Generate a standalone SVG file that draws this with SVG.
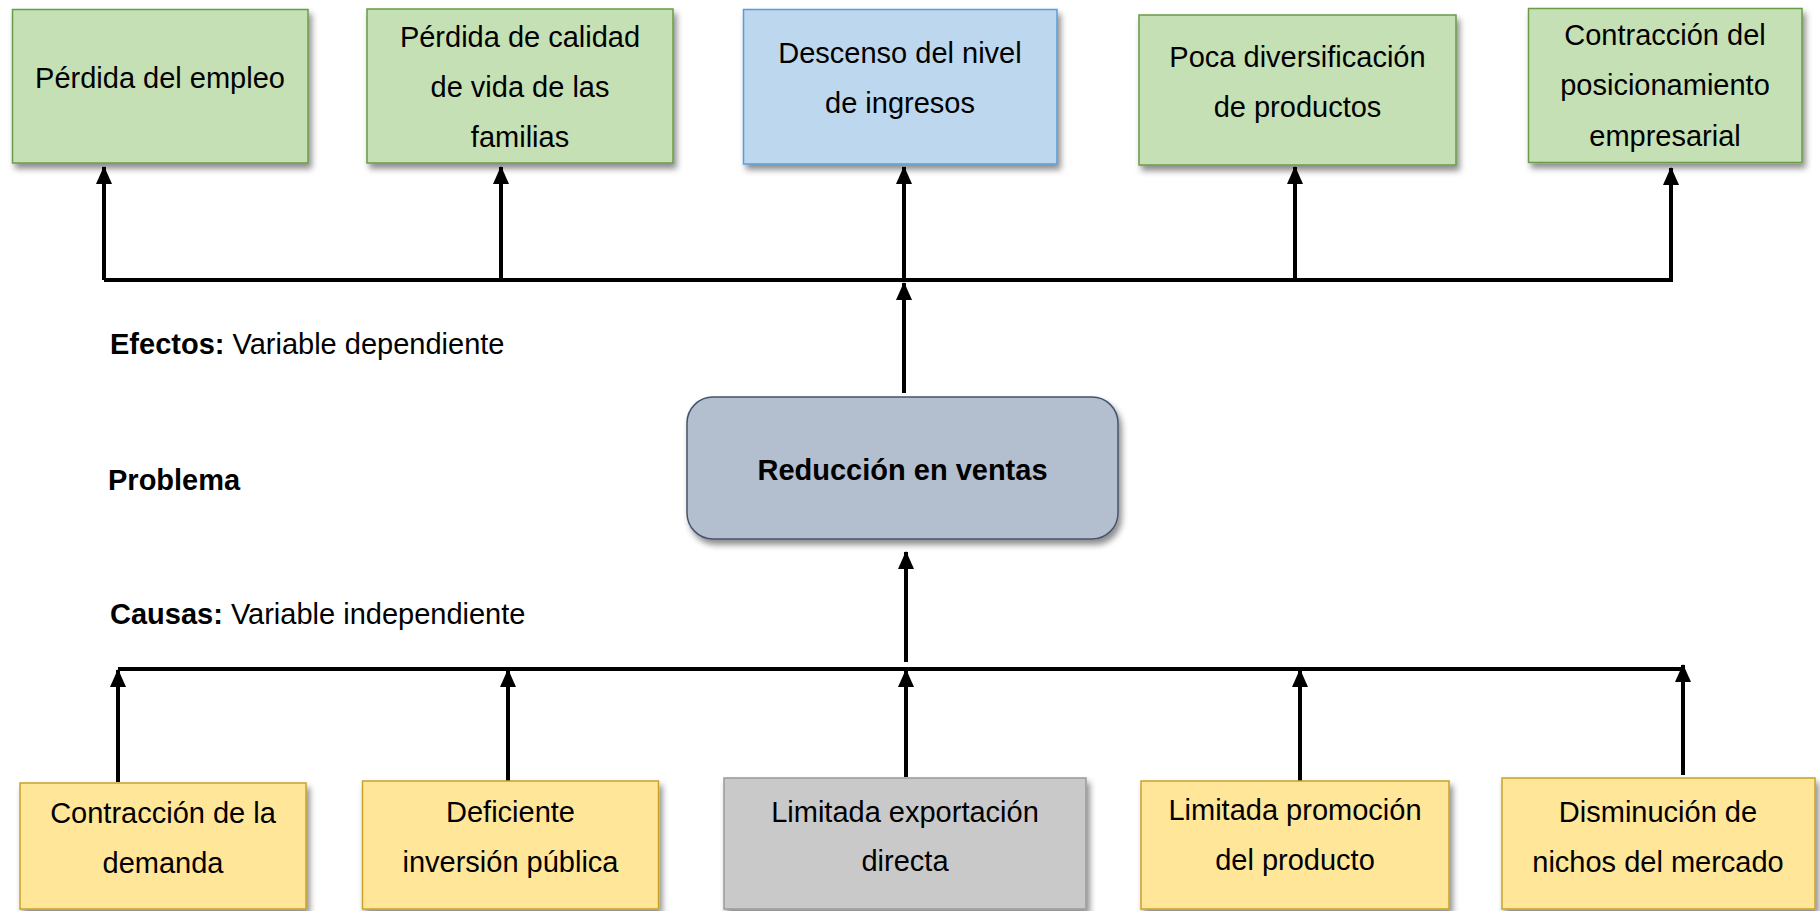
<svg xmlns="http://www.w3.org/2000/svg" width="1820" height="911" viewBox="0 0 1820 911">
<defs>
<style>
text{font-family:"Liberation Sans",Arial,sans-serif;font-size:29px;fill:#000}
.c{text-anchor:middle}
.b{font-weight:bold}
.green{fill:#C5E0B4;stroke:#6A9B47;stroke-width:1.5}
.blue{fill:#BDD7EE;stroke:#5B9BD5;stroke-width:1.5}
.yellow{fill:#FFE699;stroke:#C9A227;stroke-width:1.5}
.gray{fill:#C9C9C9;stroke:#999999;stroke-width:1.5}
.core{fill:#B3BECE;stroke:#44546A;stroke-width:1.5}
.ln{stroke:#000;stroke-width:4;fill:none}
.ar{stroke:#000;stroke-width:4;fill:none;marker-end:url(#ah)}
</style>
<marker id="ah" markerUnits="userSpaceOnUse" markerWidth="18" markerHeight="18" viewBox="0 0 18 18" refX="17" refY="9" orient="auto">
<path d="M0,1 L18,9 L0,17 Z" fill="#000"/>
</marker>
<filter id="sh" x="-10%" y="-10%" width="125%" height="130%">
<feDropShadow dx="3" dy="5" stdDeviation="3" flood-color="#000" flood-opacity="0.45"/>
</filter>
</defs>

<g id="connectors">
<line class="ln" x1="104" y1="280" x2="1671" y2="280"/>
<line class="ar" x1="104" y1="280" x2="104" y2="167"/>
<line class="ar" x1="501" y1="280" x2="501" y2="167"/>
<line class="ar" x1="904" y1="280" x2="904" y2="167"/>
<line class="ar" x1="1295" y1="280" x2="1295" y2="167"/>
<line class="ar" x1="1671" y1="282" x2="1671" y2="168"/>
<line class="ar" x1="904" y1="393" x2="904" y2="283"/>
<line class="ln" x1="118" y1="669" x2="1683" y2="669"/>
<line class="ar" x1="118" y1="782" x2="118" y2="670"/>
<line class="ar" x1="508" y1="781" x2="508" y2="670"/>
<line class="ar" x1="906" y1="777" x2="906" y2="670"/>
<line class="ar" x1="1300" y1="781" x2="1300" y2="670"/>
<line class="ar" x1="1683" y1="775" x2="1683" y2="665"/>
<line class="ar" x1="906" y1="662" x2="906" y2="552"/>
</g>

<g id="effect1">
<rect class="green" filter="url(#sh)" x="12.5" y="9.5" width="295.5" height="153.5"/>
<text class="c" x="160" y="88">Pérdida del empleo</text>
</g>
<g id="effect2">
<rect class="green" filter="url(#sh)" x="367" y="9" width="306" height="154"/>
<text class="c" x="520" y="47">Pérdida de calidad</text>
<text class="c" x="520" y="97">de vida de las</text>
<text class="c" x="520" y="147">familias</text>
</g>
<g id="effect3">
<rect class="blue" filter="url(#sh)" x="743.5" y="9.5" width="313.5" height="154.5"/>
<text class="c" x="900" y="63">Descenso del nivel</text>
<text class="c" x="900" y="113">de ingresos</text>
</g>
<g id="effect4">
<rect class="green" filter="url(#sh)" x="1139" y="15" width="317" height="150"/>
<text class="c" x="1297.5" y="67">Poca diversificación</text>
<text class="c" x="1297.5" y="117">de productos</text>
</g>
<g id="effect5">
<rect class="green" filter="url(#sh)" x="1528.5" y="8.5" width="273.5" height="154"/>
<text class="c" x="1665" y="45">Contracción del</text>
<text class="c" x="1665" y="95">posicionamiento</text>
<text class="c" x="1665" y="146">empresarial</text>
</g>

<g id="labels">
<text x="110" y="354"><tspan class="b">Efectos:</tspan> Variable dependiente</text>
<text class="b" x="108" y="490">Problema</text>
<text x="110" y="624"><tspan class="b">Causas:</tspan> Variable independiente</text>
</g>

<g id="problem">
<rect class="core" filter="url(#sh)" x="687" y="397" width="431" height="142" rx="26" ry="26"/>
<text class="c b" x="902.5" y="480">Reducción en ventas</text>
</g>

<g id="cause1">
<rect class="yellow" filter="url(#sh)" x="20" y="783" width="286" height="126"/>
<text class="c" x="163" y="823">Contracción de la</text>
<text class="c" x="163" y="873">demanda</text>
</g>
<g id="cause2">
<rect class="yellow" filter="url(#sh)" x="362.5" y="781" width="296" height="128"/>
<text class="c" x="510.5" y="822">Deficiente</text>
<text class="c" x="510.5" y="872">inversión pública</text>
</g>
<g id="cause3">
<rect class="gray" filter="url(#sh)" x="724" y="778" width="362" height="131"/>
<text class="c" x="905" y="822">Limitada exportación</text>
<text class="c" x="905" y="871">directa</text>
</g>
<g id="cause4">
<rect class="yellow" filter="url(#sh)" x="1141" y="781" width="308" height="128"/>
<text class="c" x="1295" y="820">Limitada promoción</text>
<text class="c" x="1295" y="870">del producto</text>
</g>
<g id="cause5">
<rect class="yellow" filter="url(#sh)" x="1502" y="778" width="313" height="131"/>
<text class="c" x="1658" y="822">Disminución de</text>
<text class="c" x="1658" y="872">nichos del mercado</text>
</g>
</svg>
